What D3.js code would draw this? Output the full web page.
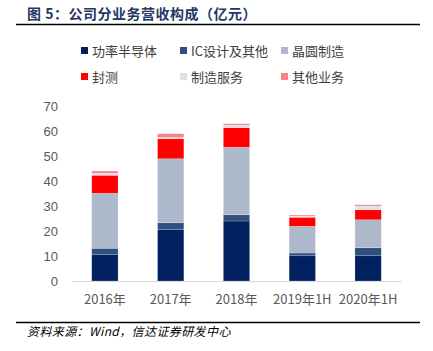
<!DOCTYPE html>
<html>
<head>
<meta charset="utf-8">
<script src="https://cdn.jsdelivr.net/npm/d3@7"></script>
<style>
  body { margin: 0; background: #fff; }
  text { font-family: "Noto Sans CJK SC", "Noto Sans", sans-serif; }
</style>
</head>
<body>
<div id="chart"></div>
<script>
const categories = ["2016年", "2017年", "2018年", "2019年1H", "2020年1H"];
const seriesNames = ["功率半导体", "IC设计及其他", "晶圆制造", "封测", "制造服务", "其他业务"];
const power = [10.7, 20.7, 24.0, 10.1, 10.1];
const icDesign = [2.4, 2.6, 2.5, 1.1, 3.2];
const wafer = [22.0, 25.6, 27.0, 10.7, 11.2];
const packaging = [7.2, 8.0, 7.8, 3.6, 4.0];
const services = [0.8, 0.6, 1.0, 0.5, 1.5];
const others = [0.9, 1.4, 0.6, 0.4, 0.5];
const yTicks = [0, 10, 20, 30, 40, 50, 60, 70];
const colors = ["#002060", "#2F4F80", "#ADB9CA", "#FF0000", "#DDE2EA", "#FF8080"];

const W = 433, H = 351;
const margin = { top: 106, right: 32, bottom: 70, left: 72 };
const width = W - margin.left - margin.right;
const height = H - margin.top - margin.bottom;

const svg = d3.select("#chart").append("svg")
  .attr("width", W).attr("height", H);

// title
svg.append("text")
  .attr("x", 27).attr("y", 19)
  .attr("font-size", 14).attr("font-weight", "bold")
  .attr("letter-spacing", 0.5)
  .attr("fill", "#1F3864")
  .text("图 5：公司分业务营收构成（亿元）");
svg.append("line")
  .attr("x1", 16).attr("x2", 420).attr("y1", 24.5).attr("y2", 24.5)
  .attr("stroke", "#000").attr("stroke-width", 1.5);

// source
svg.append("line")
  .attr("x1", 16).attr("x2", 420).attr("y1", 322.5).attr("y2", 322.5)
  .attr("stroke", "#000").attr("stroke-width", 1.5);
svg.append("text")
  .attr("x", 27).attr("y", 336)
  .attr("font-size", 12).attr("font-style", "italic")
  .attr("letter-spacing", 0.4)
  .attr("fill", "#000")
  .text("资料来源：Wind，信达证券研发中心");

// legend
const legendPos = [[81, 51], [180, 51], [281, 51], [81, 77], [180, 77], [281, 77]];
const legend = svg.append("g").selectAll("g")
  .data(seriesNames).enter().append("g")
  .attr("transform", (d, i) => `translate(${legendPos[i][0]},${legendPos[i][1]})`);
legend.append("rect")
  .attr("x", 0).attr("y", -4).attr("width", 7).attr("height", 7)
  .attr("fill", (d, i) => colors[i]);
legend.append("text")
  .attr("x", 11).attr("y", 0).attr("dy", "0.35em")
  .attr("font-size", 13).attr("fill", "#404040")
  .text(d => d);

const data = categories.map((c, i) => ({
  cat: c,
  s0: power[i], s1: icDesign[i], s2: wafer[i],
  s3: packaging[i], s4: services[i], s5: others[i]
}));
const keys = ["s0", "s1", "s2", "s3", "s4", "s5"];
const stacked = d3.stack().keys(keys)(data);

const g = svg.append("g").attr("transform", `translate(${margin.left},${margin.top})`);

const x = d3.scaleBand().domain(categories).range([0, width]).paddingInner(0.6).paddingOuter(0.3);
const y = d3.scaleLinear().domain([0, 70]).range([height, 0]);

g.selectAll("g.layer")
  .data(stacked).enter().append("g")
  .attr("class", "layer")
  .attr("fill", (d, i) => colors[i])
  .selectAll("rect")
  .data(d => d).enter().append("rect")
  .attr("x", d => x(d.data.cat))
  .attr("y", d => y(d[1]))
  .attr("height", d => y(d[0]) - y(d[1]))
  .attr("width", x.bandwidth())
  .attr("stroke", "rgba(255,255,255,0.35)")
  .attr("stroke-width", 0.6);

// y axis
const yAxis = g.append("g")
  .call(d3.axisLeft(y).tickValues(yTicks).tickSize(0).tickPadding(14));
yAxis.select(".domain").remove();
yAxis.selectAll("text")
  .attr("font-size", 13).attr("fill", "#595959")
  .style("font-family", "\"Liberation Sans\", sans-serif");

// x axis
const xAxis = g.append("g")
  .attr("transform", `translate(0,${height})`)
  .call(d3.axisBottom(x).tickSize(0).tickPadding(14));
xAxis.select(".domain").attr("stroke", "#D9D9D9").attr("stroke-width", 1);
xAxis.selectAll("text")
  .attr("font-size", 13).attr("fill", "#595959");
</script>
</body>
</html>
